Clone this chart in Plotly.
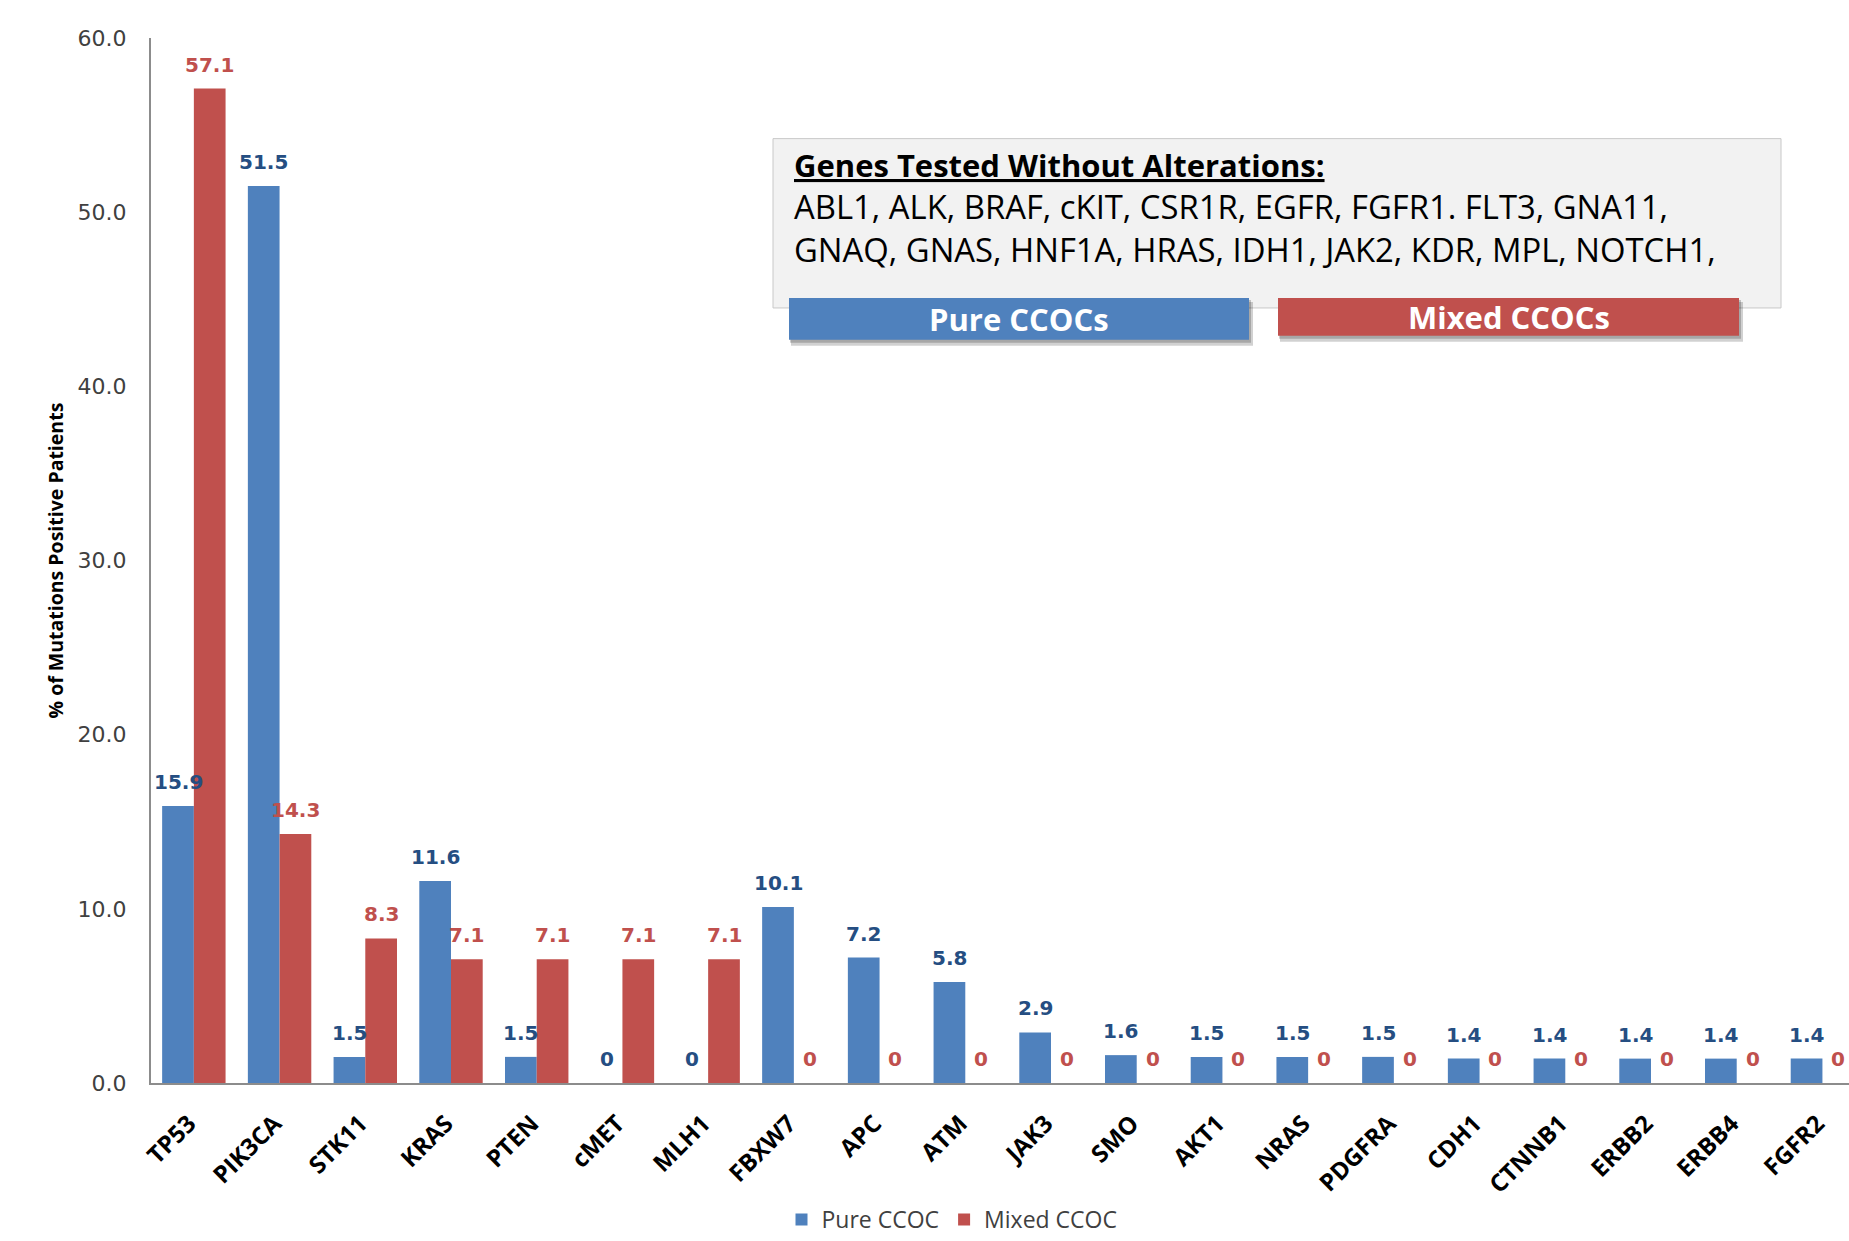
import plotly.graph_objects as go

genes = ["TP53", "PIK3CA", "STK11", "KRAS", "PTEN", "cMET", "MLH1", "FBXW7", "APC", "ATM",
         "JAK3", "SMO", "AKT1", "NRAS", "PDGFRA", "CDH1", "CTNNB1", "ERBB2", "ERBB4", "FGFR2"]
pure_ccoc = [15.9, 51.5, 1.5, 11.6, 1.5, 0, 0, 10.1, 7.2, 5.8,
             2.9, 1.6, 1.5, 1.5, 1.5, 1.4, 1.4, 1.4, 1.4, 1.4]
mixed_ccoc = [57.1, 14.3, 8.3, 7.1, 7.1, 7.1, 7.1, 0, 0, 0,
              0, 0, 0, 0, 0, 0, 0, 0, 0, 0]
y_ticks = [0, 10, 20, 30, 40, 50, 60]
series_names = ["Pure CCOC", "Mixed CCOC"]
box_title = "Genes Tested Without Alterations:"
box_lines = ["ABL1, ALK, BRAF, cKIT, CSR1R, EGFR, FGFR1. FLT3, GNA11,",
             "GNAQ, GNAS, HNF1A, HRAS, IDH1, JAK2, KDR, MPL, NOTCH1,"]
tag_labels = ["Pure CCOCs", "Mixed CCOCs"]

BLUE = "#4F81BD"
RED = "#C0504D"
BLUE_TXT = "#254E82"
RED_TXT = "#C0504D"

W, H = 1849, 1241
L, R, T, B = 151, 0, 38, 154
PW = W - L - R
PH = H - T - B


def px_x(px):
    return (px - L) / PW


def px_y(py):
    return (H - B - py) / PH


fig = go.Figure()
fig.add_trace(go.Bar(x=genes, y=pure_ccoc, name=series_names[0], marker_color=BLUE,
                     marker_line_width=0))
fig.add_trace(go.Bar(x=genes, y=mixed_ccoc, name=series_names[1], marker_color=RED,
                     marker_line_width=0))

bargap = 0.26
half = (1 - bargap) / 4


def fmt(v):
    return "0" if v == 0 else f"{v:.1f}"


annotations = []
for i, (p, m) in enumerate(zip(pure_ccoc, mixed_ccoc)):
    annotations.append(dict(x=i - half, y=p, xref="x", yref="y", text=fmt(p), showarrow=False,
                            xanchor="center", yanchor="middle", yshift=24,
                            font=dict(family="DejaVu Sans", size=20, color=BLUE_TXT, weight="bold")))
    annotations.append(dict(x=i + half, y=m, xref="x", yref="y", text=fmt(m), showarrow=False,
                            xanchor="center", yanchor="middle", yshift=24,
                            font=dict(family="DejaVu Sans", size=20, color=RED_TXT, weight="bold")))

# y-axis title
annotations.append(dict(x=px_x(55), y=0.5, xref="paper", yref="paper", xanchor="center",
                        yanchor="middle",
                        text="% of Mutations Positive Patients", textangle=-90, showarrow=False,
                        font=dict(family="Open Sans", size=19.5, color="#000000", weight="bold")))

# info box text
annotations.append(dict(x=px_x(792), y=px_y(165), xref="paper", yref="paper", xanchor="left",
                        yanchor="middle", text="<u>" + box_title + "</u>", showarrow=False,
                        font=dict(family="Open Sans", size=31, color="#000000", weight="bold")))
annotations.append(dict(x=px_x(792), y=px_y(229), xref="paper", yref="paper",
                        xanchor="left", yanchor="middle", align="left", text="<br>".join(box_lines),
                        showarrow=False,
                        font=dict(family="Open Sans", size=32.8, color="#000000")))

shapes = []
shapes.append(dict(type="rect", xref="paper", yref="paper", x0=px_x(773), x1=px_x(1781),
                   y0=px_y(309), y1=px_y(139), fillcolor="#F2F2F2",
                   line=dict(color="#C8C8C8", width=1), layer="below"))

tags = [(789, 1249, 299, 341, BLUE), (1278, 1739, 299, 337, RED)]
for (x0, x1, y0, y1, col), lab in zip(tags, tag_labels):
    shapes.append(dict(type="rect", xref="paper", yref="paper", x0=px_x(x0 + 2), x1=px_x(x1 + 4),
                       y0=px_y(y1 + 6), y1=px_y(y0 + 4), fillcolor="rgba(0,0,0,0.18)",
                       line=dict(width=0), layer="above"))
    shapes.append(dict(type="rect", xref="paper", yref="paper", x0=px_x(x0 + 1), x1=px_x(x1 + 2),
                       y0=px_y(y1 + 3), y1=px_y(y0 + 2), fillcolor="rgba(0,0,0,0.2)",
                       line=dict(width=0), layer="above"))
    shapes.append(dict(type="rect", xref="paper", yref="paper", x0=px_x(x0), x1=px_x(x1),
                       y0=px_y(y1), y1=px_y(y0), fillcolor=col,
                       line=dict(width=0), layer="above"))
    annotations.append(dict(x=px_x((x0 + x1) / 2), y=px_y((y0 + y1) / 2), xref="paper", yref="paper",
                            text=lab, showarrow=False, xanchor="center", yanchor="middle",
                            font=dict(family="Open Sans", size=31, color="#FFFFFF", weight="bold")))

fig.update_layout(
    width=W, height=H, autosize=False,
    margin=dict(l=L, r=R, t=T, b=B, pad=0),
    paper_bgcolor="#FFFFFF", plot_bgcolor="#FFFFFF",
    barmode="group", bargap=bargap, bargroupgap=0,
    showlegend=True,
    legend=dict(orientation="h", x=px_x(952), xanchor="center", y=px_y(1224), yanchor="middle",
                font=dict(family="Open Sans", size=23, color="#404040"), traceorder="normal",
                itemwidth=30, tracegroupgap=0),
    annotations=annotations, shapes=shapes,
    xaxis=dict(range=[-0.5, 19.31], showgrid=False, zeroline=False,
               showline=True, linecolor="#8C8C8C", linewidth=2, ticks="", tickangle=-45,
               tickfont=dict(family="Open Sans", size=24, color="#000000", weight="bold"),
               ticklabelstandoff=15, ticklabelshift=-5),
    yaxis=dict(range=[0, 60], tickvals=y_ticks, ticktext=[f"{v:.1f}" for v in y_ticks],
               showgrid=False, zeroline=False, showline=True, linecolor="#8C8C8C", linewidth=2,
               ticks="", tickfont=dict(family="DejaVu Sans", size=22, color="#404040"),
               ticklabelstandoff=18),
)

fig.write_html("out.html")
